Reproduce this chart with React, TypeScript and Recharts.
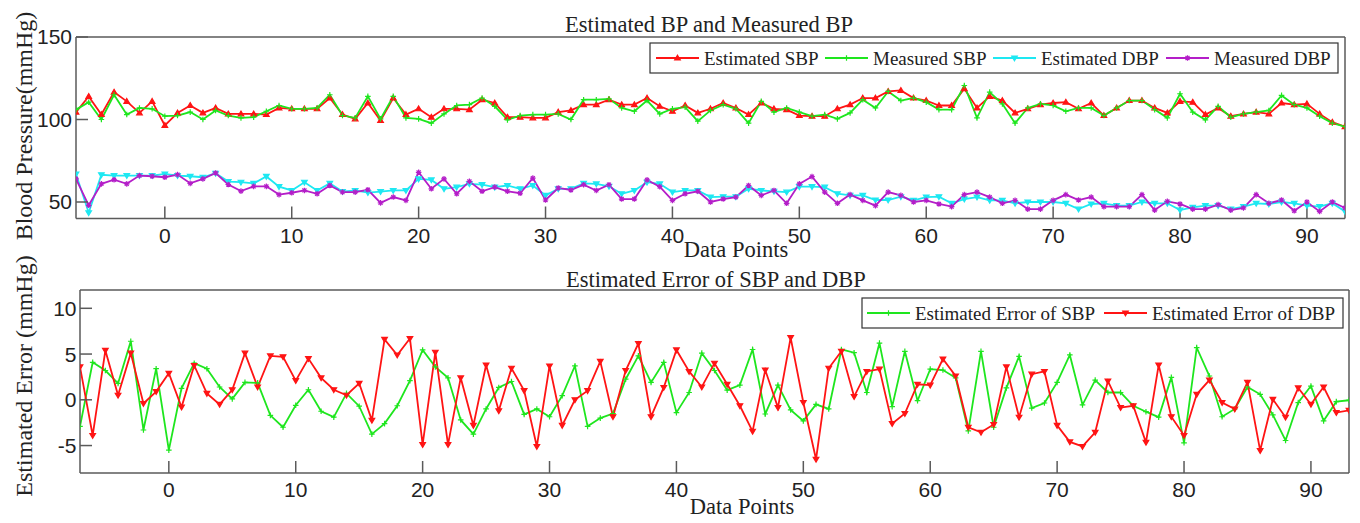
import { LineChart, Line, XAxis, YAxis } from 'recharts';

// x positions of the samples
const xs = Array.from({ length: 101 }, (_, i) => i - 7);

const estSBP = [
  104.5, 114, 103, 116.6, 111, 104, 111, 96.4, 104, 108.5, 104, 107, 103.4, 103.4, 103.4, 103, 107, 106.5, 106.5, 106.5, 113, 103, 100.4, 110, 99.4,
  113, 103, 106.5, 101.4, 106.5, 106.5, 106, 112, 110, 101.4, 101.4, 101, 101, 104.5, 105.5, 109, 109, 112, 109, 109, 113, 108, 105, 108.5, 104, 106.5,
  110, 107, 103, 110, 106.5, 106, 102.4, 102, 102, 106.5, 109, 113, 113, 117, 117.6, 113, 111.5, 108.5, 108.5, 118.6, 107, 114, 111.5, 104, 106.5,
  109, 110, 110.5, 106.5, 110, 102.4, 107, 111.5, 111.5, 107, 104, 111, 110.5, 103, 107, 102, 103.4, 104.5, 103.4, 110, 109, 109.5, 103.4, 98.4, 95.7,
];
const measSBP = [
  106, 110.5, 100, 115, 103, 107, 106.5, 102, 102.4, 104.5, 100, 105.5, 102.4, 101, 101.4, 105, 108.5, 106.5, 106.5, 107, 115, 102.4, 101, 114, 100.4,
  114, 101, 100.4, 97.8, 103.4, 108.5, 109, 113, 108, 99.8, 102.4, 103, 103, 103.4, 100, 112, 112, 112.5, 107, 105, 111.5, 103.4, 106.5, 107.5, 99, 105.5,
  109, 106.5, 97.8, 111, 104.5, 107, 104.5, 102, 103, 100.4, 104, 112, 107, 117, 111.5, 113, 110.5, 106, 106, 120.6, 101, 116.6, 109.5, 97.8, 107,
  109.5, 108.5, 105, 107, 107, 102.4, 107, 111.5, 111.5, 106, 101, 115.6, 104.5, 99.8, 108, 101.4, 103.4, 104.5, 105.5, 114.6, 109, 107, 102, 97.8, 95.7,
];
const estDBP = [
  67, 43.5, 66.5, 66, 66, 66, 66, 67, 66, 65.6, 65, 67.4, 62.4, 62, 61.3, 65.5, 59.3, 57, 62, 57, 61.3, 56.3, 57, 55.7, 56.3,
  57, 57, 64, 63.4, 58, 59, 61, 60.5, 59, 60, 58, 60, 54, 58, 58, 61.3, 61, 59.5, 55, 57, 62, 61, 56, 57, 57, 53,
  53.2, 53.2, 58, 57, 56.5, 56, 59.3, 59.3, 59, 55, 54, 54, 51.2, 51.2, 53.2, 51, 53, 53.2, 49.2, 51.8, 53, 51, 51, 49.2, 50,
  50, 50, 49.2, 45.7, 48.8, 49.2, 47.8, 47.8, 50, 49.2, 49.2, 45.1, 46.8, 47.8, 47.8, 45.7, 47.2, 49.2, 48.8, 50, 49.2, 47.8, 47.2, 49.2, 44.3,
];
const measDBP = [
  64, 48, 61, 63.5, 61, 66, 65.6, 65, 66.6, 61.3, 64, 67.6, 60.6, 56.6, 59.5, 59.5, 54.5, 55.6, 57, 55, 60, 56, 56, 57.4, 49.5,
  53, 51, 68, 58, 64, 55, 62.5, 56.5, 59, 56.5, 55.3, 64.5, 51.2, 58.5, 57.3, 60.5, 57, 60.5, 51.8, 51.8, 63.4, 59.3, 51, 55, 56.5, 50,
  51.8, 53, 60, 54, 57, 49.2, 61, 65.4, 56, 49.2, 54.5, 51, 47.8, 56, 54, 50, 51, 48.8, 47.2, 54.5, 56, 53, 49.2, 51, 45.7,
  45.7, 51, 54.5, 51.2, 53, 47.2, 47.2, 47.2, 54.5, 45.1, 50.4, 48.8, 45.7, 45.7, 48.4, 45.1, 46.4, 54.5, 49.2, 51.2, 44.7, 50, 44.3, 50, 46.4,
];
const errSBP = [
  -2.9, 4.1, 3.2, 1.8, 6.4, -3.3, 3.4, -5.5, 1.25, 4.0, 3.4, 1.4, 0.1, 1.9, 1.85, -1.7, -3.0, -0.6, 1.1, -1.25, -1.9, 0.7, -0.7, -3.75, -2.6,
  -0.65, 2.1, 5.45, 3.6, 2.4, -2.2, -3.75, -1.0, 1.35, 2.0, -1.6, -1.0, -1.85, 0.45, 3.7, -2.9, -2.0, -1.5, 2.25, 4.8, 1.9, 4.1, -1.4, 0.8, 5.1,
  3.2, 1.05, 1.6, 5.5, -1.55, 1.6, -1.1, -2.3, -0.5, -1.0, 5.5, 5.15, 0.8, 6.2, -0.75, 5.3, -0.1, 3.35, 3.25, 2.4, -3.4, 5.3, -3.0, 1.3, 4.75,
  -0.9, -0.35, 1.9, 4.9, -0.55, 2.15, 0.8, 0.8, -0.65, -1.3, -1.9, 2.45, -4.7, 5.7, 2.6, -1.85, -1.0, 1.4, 0.6, -1.65, -4.45, -0.3, 1.5, -2.3, -0.2, -0.05,
];
const errDBP = [
  3.6, -3.9, 5.4, 0.5, 5.1, -0.4, 0.9, 2.9, -0.8, 3.75, 0.7, -0.5, 1.1, 5.1, 1.4, 4.8, 4.7, 2.1, 4.5, 2.4, 1.1, 0.5, 1.8, -2.25, 6.6,
  4.9, 6.7, -4.9, 5.2, -4.9, 2.4, -2.8, 3.8, -1.2, 3.45, 1.0, -5.1, 3.7, -2.8, 0, 1.0, 4.2, -1.85, 3.2, 6.15, -1.85, 1.35, 5.45, 3.1, 1.4,
  4.0, 1.7, -0.65, -3.45, 3.25, -0.85, 6.8, -0.3, -6.5, 3.45, 5.3, 0.35, 3.1, 3.35, -2.6, -1.5, 1.7, 1.6, 4.45, 2.6, -3.0, -3.55, -2.7, 3.6, -1.9,
  2.8, 3.1, -2.8, -4.6, -5.1, -3.55, 2.05, -0.85, -0.65, -4.65, 3.8, -1.85, -3.9, 0.6, 2.15, -0.3, -1.0, 1.9, -5.55, 0.05, -1.9, 1.3, -0.5, 1.4, -1.4, -1.15,
];

const xTicks = [0, 10, 20, 30, 40, 50, 60, 70, 80, 90];
const bpTicks = [50, 100, 150];
const errTicks = [-5, 0, 5, 10];

const bpData = xs.map((x, i) => ({ x, estSBP: estSBP[i], measSBP: measSBP[i], estDBP: estDBP[i], measDBP: measDBP[i] }));
const errData = xs.map((x, i) => ({ x, errSBP: errSBP[i], errDBP: errDBP[i] }));

const RED = '#ff1414';
const GREEN = '#1ee61e';
const CYAN = '#1ee8f2';
const PURPLE = '#b41ec8';
const FRAME = '#5a5a5a';
const SERIF = '"Liberation Serif", "Times New Roman", serif';
const SANS = '"Liberation Sans", Arial, sans-serif';

const tickStyle = { fontSize: 21, fill: '#222', fontFamily: SANS };
const frameLine = { stroke: FRAME, strokeWidth: 1.5 };

type Kind = 'up' | 'down' | 'plus' | 'star';

function markerPath(kind: Kind, cx: number, cy: number) {
  const s = 2.8;
  if (kind === 'up') return `M${cx},${cy - s}L${cx + s},${cy + s * 0.7}L${cx - s},${cy + s * 0.7}Z`;
  if (kind === 'down') return `M${cx},${cy + s}L${cx + s},${cy - s * 0.7}L${cx - s},${cy - s * 0.7}Z`;
  if (kind === 'plus') return `M${cx - s},${cy}H${cx + s}M${cx},${cy - s}V${cy + s}`;
  return `M${cx - s},${cy}H${cx + s}M${cx},${cy - s}V${cy + s}M${cx - 2},${cy - 2}L${cx + 2},${cy + 2}M${cx - 2},${cy + 2}L${cx + 2},${cy - 2}`;
}

const dot = (kind: Kind, color: string) => (p: any) => {
  const { cx, cy, index } = p;
  if (cx == null || cy == null) return <g key={index} />;
  return <path key={index} d={markerPath(kind, cx, cy)} fill={color} stroke={color} strokeWidth={1.2} />;
};

function LegendItem({ x, y, color, kind, label }: { x: number; y: number; color: string; kind: Kind; label: string }) {
  return (
    <g>
      <line x1={x} y1={y} x2={x + 43} y2={y} stroke={color} strokeWidth={2} />
      <path d={markerPath(kind, x + 21.5, y)} fill={color} stroke={color} strokeWidth={1.2} />
      <text x={x + 48} y={y + 6.5} fontSize={19} fontFamily={SERIF} fill="#222">{label}</text>
    </g>
  );
}

export default function App() {
  return (
    <div style={{ position: 'absolute', left: 0, top: 0, width: 1360, height: 523, background: '#fff' }}>
      <div style={{ position: 'absolute', left: 0, top: 0 }}>
        <LineChart width={1360} height={260} data={bpData} margin={{ top: 36, right: 14, bottom: 40.5, left: 75 }}>
          <XAxis dataKey="x" type="number" domain={[-7, 93]} ticks={xTicks} interval={0} height={1} tickSize={-12} tickMargin={21.5}
            axisLine={frameLine} tickLine={frameLine} tick={tickStyle} allowDataOverflow />
          <XAxis xAxisId="top" orientation="top" dataKey="x" type="number" domain={[-7, 93]} ticks={xTicks} interval={0} height={1}
            tickSize={-12} axisLine={frameLine} tickLine={frameLine} tick={false} allowDataOverflow />
          <YAxis type="number" domain={[40, 150]} ticks={bpTicks} interval={0} width={1} tickSize={-12} tickMargin={16}
            axisLine={frameLine} tickLine={frameLine} tick={tickStyle} allowDataOverflow />
          <YAxis yAxisId="right" orientation="right" type="number" domain={[40, 150]} ticks={bpTicks} interval={0} width={1}
            tickSize={-12} axisLine={frameLine} tickLine={frameLine} tick={false} allowDataOverflow />
          <Line type="linear" dataKey="estSBP" stroke={RED} strokeWidth={1.8} dot={dot('up', RED)} isAnimationActive={false} />
          <Line type="linear" dataKey="measSBP" stroke={GREEN} strokeWidth={1.8} dot={dot('plus', GREEN)} isAnimationActive={false} />
          <Line type="linear" dataKey="estDBP" stroke={CYAN} strokeWidth={1.8} dot={dot('down', CYAN)} isAnimationActive={false} />
          <Line type="linear" dataKey="measDBP" stroke={PURPLE} strokeWidth={1.8} dot={dot('star', PURPLE)} isAnimationActive={false} />
        </LineChart>
      </div>
      <div style={{ position: 'absolute', left: 0, top: 260 }}>
        <LineChart width={1360} height={263} data={errData} margin={{ top: 29, right: 10, bottom: 49, left: 79 }}>
          <XAxis dataKey="x" type="number" domain={[-7, 93]} ticks={xTicks} interval={0} height={1} tickSize={-12} tickMargin={21.5}
            axisLine={frameLine} tickLine={frameLine} tick={tickStyle} allowDataOverflow />
          <XAxis xAxisId="top" orientation="top" dataKey="x" type="number" domain={[-7, 93]} ticks={xTicks} interval={0} height={1}
            tickSize={-12} axisLine={frameLine} tickLine={frameLine} tick={false} allowDataOverflow />
          <YAxis type="number" domain={[-8, 12]} ticks={errTicks} interval={0} width={1} tickSize={-12} tickMargin={15.5}
            axisLine={frameLine} tickLine={frameLine} tick={tickStyle} allowDataOverflow />
          <YAxis yAxisId="right" orientation="right" type="number" domain={[-8, 12]} ticks={errTicks} interval={0} width={1}
            tickSize={-12} axisLine={frameLine} tickLine={frameLine} tick={false} allowDataOverflow />
          <Line type="linear" dataKey="errSBP" stroke={GREEN} strokeWidth={1.8} dot={dot('plus', GREEN)} isAnimationActive={false} />
          <Line type="linear" dataKey="errDBP" stroke={RED} strokeWidth={1.8} dot={dot('down', RED)} isAnimationActive={false} />
        </LineChart>
      </div>
      <svg width={1360} height={523} style={{ position: 'absolute', left: 0, top: 0, pointerEvents: 'none' }}>
        <text x={709} y={32} textAnchor="middle" fontSize={22.5} fontFamily={SERIF} fill="#222">Estimated BP and Measured BP</text>
        <text x={736} y={257} textAnchor="middle" fontSize={22.5} fontFamily={SERIF} fill="#222">Data Points</text>
        <text transform="translate(32,126) rotate(-90)" textAnchor="middle" fontSize={24} fontFamily={SERIF} fill="#222">Blood Pressure(mmHg)</text>
        <text x={716} y={287} textAnchor="middle" fontSize={22.5} fontFamily={SERIF} fill="#222">Estimated Error of SBP and DBP</text>
        <text x={742} y={514} textAnchor="middle" fontSize={22.5} fontFamily={SERIF} fill="#222">Data Points</text>
        <text transform="translate(32,376) rotate(-90)" textAnchor="middle" fontSize={24} fontFamily={SERIF} fill="#222">Estimated Error (mmHg)</text>

        <rect x={650} y={43} width={688} height={30} fill="#fff" stroke="#333" strokeWidth={1.2} />
        <LegendItem x={656} y={58} color={RED} kind="up" label="Estimated SBP" />
        <LegendItem x={825} y={58} color={GREEN} kind="plus" label="Measured SBP" />
        <LegendItem x={993} y={58} color={CYAN} kind="down" label="Estimated DBP" />
        <LegendItem x={1166} y={58} color={PURPLE} kind="star" label="Measured DBP" />

        <rect x={862} y={298} width={481} height={30} fill="#fff" stroke="#333" strokeWidth={1.2} />
        <LegendItem x={867} y={313} color={GREEN} kind="plus" label="Estimated Error of SBP" />
        <LegendItem x={1104} y={313} color={RED} kind="down" label="Estimated Error of DBP" />
      </svg>
    </div>
  );
}
